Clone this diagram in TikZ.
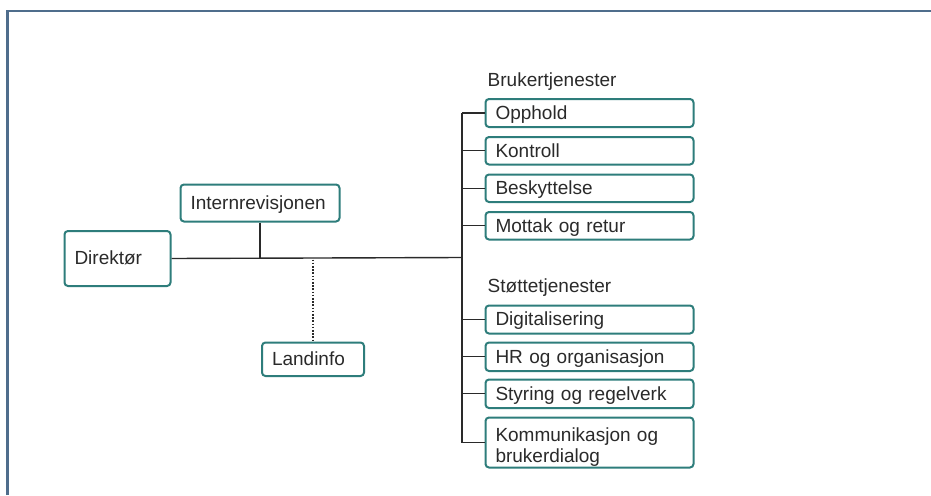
\documentclass[tikz,border=0pt]{standalone}
\usepackage{fontspec}
\setmainfont{Liberation Sans}
\definecolor{frame}{HTML}{4F6D8C}
\definecolor{teal}{HTML}{2E7D7B}
\definecolor{ink}{HTML}{2A2A2A}
\begin{document}
\begin{tikzpicture}[x=1pt,y=-1pt,
  box/.style={draw=teal, line width=2pt, rounded corners=3.5pt, fill=white,
    inner xsep=10pt, inner ysep=0pt, align=left, anchor=north west,
    font=\fontsize{19}{21}\selectfont, text=ink},
  one/.style={text height=14.5pt, text depth=2pt},
  conn/.style={draw=ink, line width=1.4pt},
  lbl/.style={anchor=base west, inner sep=0pt, font=\fontsize{19}{21}\selectfont, text=ink}]
\useasboundingbox (0,0) rectangle (931,495);
\fill[white] (0,0) rectangle (931,495);
% frame
\draw[frame, line width=2.5pt] (7.5,495) -- (7.5,11) -- (931,11);
% left part
\node[box, one, minimum width=106pt, minimum height=55pt, text width=86pt] (dir) at (63.5,230) {Direktør};
\node[box, one, minimum width=159pt, minimum height=37pt, text width=139pt] (intr) at (179.5,183.5) {Internrevisjonen};
\node[box, one, minimum width=102pt, minimum height=33.5pt, text width=82pt] (land) at (261,341.5) {Landinfo};
% right boxes
\node[box, one, minimum width=208pt, minimum height=28pt, text width=188pt] (opp) at (484.5,98) {Opphold};
\node[box, one, minimum width=208pt, minimum height=27.5pt, text width=188pt] (kon) at (484.5,136) {Kontroll};
\node[box, one, minimum width=208pt, minimum height=27.5pt, text width=188pt] (bes) at (484.5,173.5) {Beskyttelse};
\node[box, one, minimum width=208pt, minimum height=27.5pt, text width=188pt] (mot) at (484.5,211) {Mottak og retur};
\node[box, one, minimum width=208pt, minimum height=28pt, text width=188pt] (dig) at (484.5,304.5) {Digitalisering};
\node[box, one, minimum width=208pt, minimum height=28.5pt, text width=188pt] (hr) at (484.5,341.5) {HR og organisasjon};
\node[box, one, minimum width=208pt, minimum height=28.5pt, text width=188pt] (sty) at (484.5,378.5) {Styring og regelverk};
\node[box, minimum width=208pt, minimum height=50pt, text width=188pt] (kom) at (484.5,416.5) {\rule{0pt}{22pt}Kommunikasjon og\\brukerdialog};
% labels
\node[lbl] (bl) at (487.5,86) {Brukertjenester};
\node[lbl] (sl) at (487.5,292) {Støttetjenester};
% connectors
\coordinate (sp) at (462,257.5);
\draw[conn] (dir.east) -- (sp);
\draw[conn] (intr.south) -- (intr.south |- sp);
\draw[ink, line width=1.4pt, dash pattern=on 1.6pt off 1.6pt] (land.north |- sp) ++(0,2) -- (land.north);
\draw[conn] (opp.west -| sp) -- (kom.west -| sp);
\foreach \n in {opp,kon,bes,mot,dig,hr,sty,kom}
  \draw[conn] (\n.west) -- (\n.west -| sp);
\end{tikzpicture}
\end{document}
